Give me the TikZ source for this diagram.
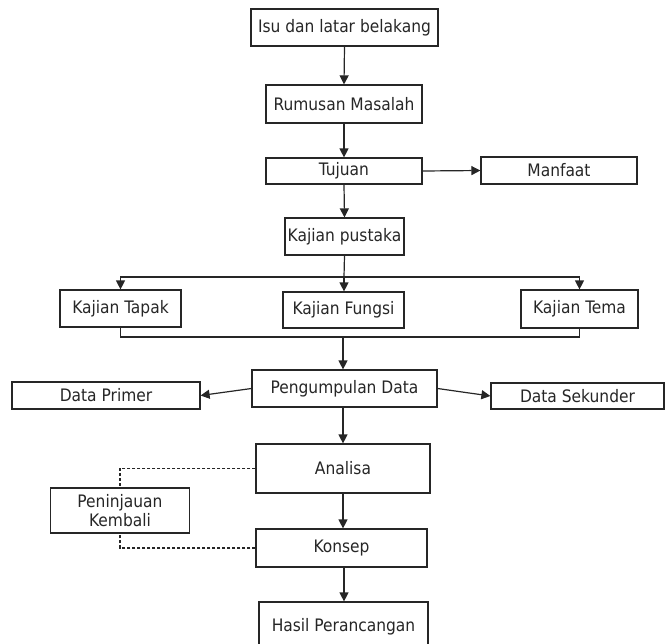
\documentclass[tikz,border=0pt]{standalone}
\usepackage{fontspec}
\setmainfont{DejaVu Sans Condensed}
\usetikzlibrary{arrows.meta}
\definecolor{ink}{HTML}{262626}
\tikzset{
  box/.style={draw=ink, line width=1.2pt, text=ink, inner sep=0pt, align=center,
    font=\fontsize{17.2}{19.5}\selectfont},
  arr/.style={draw=ink, line width=1.2pt, -{Triangle[length=9pt,width=9pt]}},
  ln/.style={draw=ink, line width=1.2pt},
  dsh/.style={draw=ink, line width=1.1pt, dash pattern=on 3pt off 2pt},
}
\begin{document}
\begin{tikzpicture}[x=1pt,y=-1pt]
\useasboundingbox (0,0) rectangle (667,643);
\begin{scope}
\clip (0,0) rectangle (667,643);
\node[box, minimum width=187pt, minimum height=37pt] (isu) at (344.5,27.5) {Isu dan latar belakang};
\node[box, minimum width=156pt, minimum height=38pt] (rum) at (344,104) {Rumusan Masalah};
\node[box, minimum width=156pt, minimum height=26pt] (tuj) at (344,171) {Tujuan};
\node[box, minimum width=156pt, minimum height=27pt] (man) at (559,170.5) {Manfaat};
\node[box, minimum width=119pt, minimum height=37pt] (kp) at (344.5,236.5) {Kajian pustaka};
\node[box, minimum width=121pt, minimum height=37pt] (tapak) at (120.5,308.5) {Kajian Tapak};
\node[box, minimum width=121pt, minimum height=36pt] (fungsi) at (343.5,310) {Kajian Fungsi};
\node[box, minimum width=117pt, minimum height=38pt] (tema) at (579.5,309) {Kajian Tema};
\node[box, minimum width=185pt, minimum height=37pt] (peng) at (344.5,388.5) {Pengumpulan Data};
\node[box, minimum width=188pt, minimum height=27pt] (dp) at (106,395.5) {Data Primer};
\node[box, minimum width=173pt, minimum height=26pt] (ds) at (577.5,396) {Data Sekunder};
\node[box, minimum width=174pt, minimum height=49pt] (ana) at (343,468.5) {Analisa};
\node[box, minimum width=139pt, minimum height=45pt] (pen) at (120,510.5) {Peninjauan\\Kembali};
\node[box, minimum width=171pt, minimum height=38pt] (kon) at (341.5,548) {Konsep};
\node[box, minimum width=169pt, minimum height=50pt] (hasil) at (343.5,627) {Hasil Perancangan};

\coordinate (split) at (344,277);
\coordinate (merge) at (343,337);

\draw[arr] (isu.south) -- (rum.north);
\draw[arr] (rum.south) -- (tuj.north);
\draw[arr] (tuj.east) -- (man.west);
\draw[arr] (tuj.south) -- (kp.north);
\draw[ln] (kp.south) -- (split);
\draw[arr] (split) -| (tapak.north);
\draw[arr] (split) -| (tema.north);
\draw[arr] (split) -- (fungsi.north -| split);
\draw[ln] (tapak.south) |- (merge) -| (tema.south);
\draw[arr] (merge) -- (peng.north -| merge);
\draw[arr] (peng.west) -- (dp.east);
\draw[arr] (peng.east) -- (ds.west);
\draw[arr] (peng.south -| merge) -- (ana.north -| merge);
\draw[arr] (ana.south -| merge) -- (kon.north -| merge);
\draw[arr] (kon.south -| split) -- (hasil.north -| split);
\draw[dsh] (ana.west) -| (pen.north);
\draw[dsh] (kon.west) -| (pen.south);
\end{scope}
\end{tikzpicture}
\end{document}
